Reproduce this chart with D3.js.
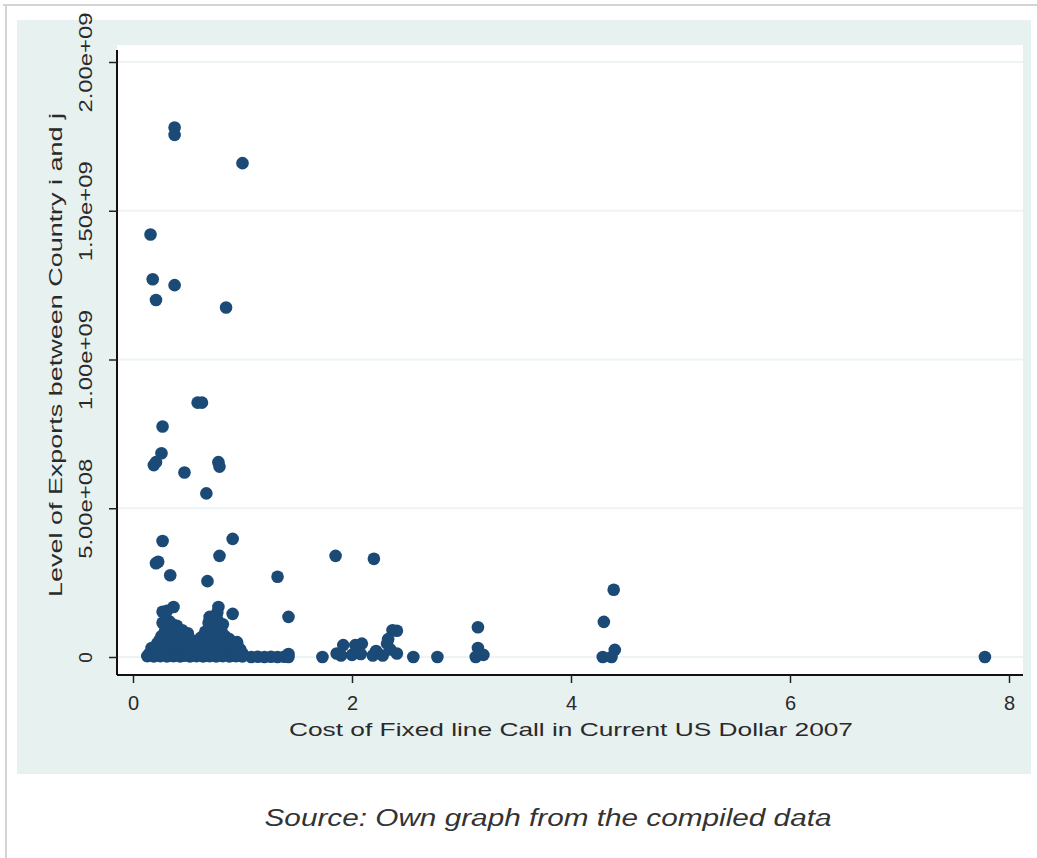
<!DOCTYPE html>
<html>
<head>
<meta charset="utf-8">
<script src="https://cdn.jsdelivr.net/npm/d3@7"></script>
<style>
  html, body { margin: 0; padding: 0; background: #ffffff; }
  svg { display: block; }
  text { font-family: "Liberation Sans", Arial, "DejaVu Sans", sans-serif; }
</style>
</head>
<body>
<svg id="chart" width="1037" height="858"></svg>
<script>
// ---- Data ----
// Cost of fixed-line call (current US$, 2007)
const costX = [
  0.38, 0.38, 1.00, 0.16, 0.18, 0.38, 0.21, 0.85, 0.59, 0.63,
  0.27, 0.26, 0.21, 0.19, 0.47, 0.78, 0.79, 0.67, 0.27, 0.91,
  0.79, 0.21, 0.23, 0.34, 0.68, 1.32, 1.85, 2.20, 1.42, 4.39,
  4.30, 3.15,
  0.27, 0.31, 0.37, 0.78, 0.77, 0.70, 0.91, 0.75, 0.82,
  0.30, 0.35, 0.40, 0.45, 0.50, 0.33, 0.28, 0.38, 0.44, 0.55,
  0.62, 0.66, 0.70, 0.72, 0.78, 0.84, 0.88, 0.95, 0.74, 0.80,
  0.60, 0.25, 0.20, 0.22, 0.90, 0.98, 0.52, 0.47, 0.65, 0.58,
  0.35, 0.42, 0.32, 0.70, 0.85, 0.92,
  0.18, 0.24, 0.29, 0.36, 0.41, 0.27, 0.33, 0.39, 0.45, 0.48,
  0.31, 0.26, 0.36, 0.43, 0.53, 0.57, 0.63, 0.68, 0.73, 0.77,
  0.81, 0.86, 0.69, 0.74, 0.79, 0.64, 0.71, 0.76, 0.83, 0.89,
  0.93, 0.67, 0.72, 0.81, 0.60, 0.55, 0.50, 0.17, 0.23, 0.96,
  0.13, 0.16, 0.19, 0.22, 0.25, 0.28, 0.31, 0.34, 0.37, 0.40,
  0.43, 0.46, 0.49, 0.52, 0.55, 0.58, 0.61, 0.64, 0.67, 0.70,
  0.73, 0.76, 0.79, 0.82, 0.85, 0.88, 0.91, 0.94, 0.97, 1.00,
  1.08, 1.14, 1.20, 1.26, 1.32, 1.38, 1.42, 1.42,
  0.15, 0.20, 0.30, 0.50, 0.60, 0.75, 0.95, 1.00,
  1.73, 1.86, 1.92, 1.90, 2.00, 2.03, 2.09, 2.08, 2.19, 2.22,
  2.28, 2.32, 2.35, 2.37, 2.41, 2.41, 2.33, 2.56, 2.78, 3.15,
  3.20, 3.13, 4.29, 4.40, 4.37, 7.78
];
// Level of exports between country i and j (US$)
const exportsY = [
  17.80e8, 17.55e8, 16.60e8, 14.20e8, 12.70e8, 12.50e8, 12.00e8, 11.75e8, 8.55e8, 8.55e8,
  7.75e8, 6.85e8, 6.55e8, 6.45e8, 6.20e8, 6.55e8, 6.40e8, 5.50e8, 3.90e8, 3.97e8,
  3.40e8, 3.15e8, 3.20e8, 2.75e8, 2.55e8, 2.70e8, 3.40e8, 3.30e8, 1.35e8, 2.26e8,
  1.18e8, 1.00e8,
  1.52e8, 1.55e8, 1.68e8, 1.68e8, 1.50e8, 1.35e8, 1.45e8, 1.20e8, 1.10e8,
  1.00e8, 0.95e8, 1.05e8, 0.90e8, 0.80e8, 0.80e8, 0.60e8, 0.70e8, 0.60e8, 0.55e8,
  0.65e8, 0.85e8, 1.00e8, 0.80e8, 0.90e8, 0.70e8, 0.60e8, 0.50e8, 0.60e8, 0.50e8,
  0.40e8, 0.40e8, 0.30e8, 0.45e8, 0.30e8, 0.25e8, 0.30e8, 0.40e8, 0.30e8, 0.20e8,
  0.35e8, 0.25e8, 0.20e8, 0.45e8, 0.35e8, 0.15e8,
  0.25e8, 0.55e8, 0.85e8, 1.10e8, 0.95e8, 1.15e8, 1.20e8, 0.80e8, 0.75e8, 0.55e8,
  0.50e8, 0.70e8, 0.45e8, 0.45e8, 0.45e8, 0.35e8, 0.30e8, 0.60e8, 1.10e8, 1.25e8,
  0.85e8, 0.50e8, 1.15e8, 0.95e8, 0.70e8, 0.50e8, 0.65e8, 0.35e8, 0.45e8, 0.25e8,
  0.30e8, 0.20e8, 0.25e8, 0.25e8, 0.20e8, 0.15e8, 0.20e8, 0.30e8, 0.20e8, 0.35e8,
  0.03e8, 0.05e8, 0.02e8, 0.06e8, 0.03e8, 0.08e8, 0.02e8, 0.05e8, 0.03e8, 0.07e8,
  0.02e8, 0.04e8, 0.06e8, 0.02e8, 0.05e8, 0.03e8, 0.07e8, 0.02e8, 0.04e8, 0.03e8,
  0.06e8, 0.02e8, 0.05e8, 0.03e8, 0.07e8, 0.02e8, 0.04e8, 0.03e8, 0.05e8, 0.02e8,
  0.00e8, 0.01e8, 0.00e8, 0.01e8, 0.00e8, 0.01e8, 0.00e8, 0.10e8,
  0.12e8, 0.15e8, 0.10e8, 0.12e8, 0.10e8, 0.15e8, 0.10e8, 0.12e8,
  0.00e8, 0.12e8, 0.40e8, 0.05e8, 0.07e8, 0.40e8, 0.45e8, 0.10e8, 0.05e8, 0.20e8,
  0.05e8, 0.45e8, 0.25e8, 0.90e8, 0.88e8, 0.12e8, 0.60e8, 0.00e8, 0.00e8, 0.30e8,
  0.07e8, 0.00e8, 0.00e8, 0.24e8, 0.00e8, 0.00e8
];
const xTicks = [0, 2, 4, 6, 8];
const xTickLabels = ["0", "2", "4", "6", "8"];
const yTicks = [0, 5e8, 1e9, 1.5e9, 2e9];
const yTickLabels = ["0", "5.00e+08", "1.00e+09", "1.50e+09", "2.00e+09"];
const xTitle = "Cost of Fixed line Call in Current US Dollar 2007";
const yTitle = "Level of Exports between  Country i and j";
const sourceNote = "Source: Own graph from the compiled  data";

// ---- Drawing ----
const svg = d3.select("#chart");
const markerColor = "#1b4a77";

// figure frame lines
svg.append("line").attr("x1", 3).attr("x2", 1037).attr("y1", 5).attr("y2", 5)
  .attr("stroke", "#d4d4d4").attr("stroke-width", 2);
svg.append("line").attr("x1", 6).attr("x2", 6).attr("y1", 5).attr("y2", 858)
  .attr("stroke", "#d4d4d4").attr("stroke-width", 2);

// graph region (light bluish)
svg.append("rect").attr("x", 17).attr("y", 20).attr("width", 1014).attr("height", 754)
  .attr("fill", "#e7f1ef");
// plot region (white)
svg.append("rect").attr("x", 117).attr("y", 45).attr("width", 906).attr("height", 630)
  .attr("fill", "#ffffff");

const x = d3.scaleLinear().domain([0, 8]).range([133, 1009]);
const y = d3.scaleLinear().domain([0, 2e9]).range([657, 62]);

// gridlines
svg.append("g").selectAll("line").data(yTicks).join("line")
  .attr("x1", 118).attr("x2", 1023)
  .attr("y1", d => y(d)).attr("y2", d => y(d))
  .attr("stroke", "#eef3f3").attr("stroke-width", 2);

// points
svg.append("g").selectAll("circle").data(costX.map((c, i) => [c, exportsY[i]])).join("circle")
  .attr("cx", d => x(d[0])).attr("cy", d => y(d[1]))
  .attr("r", 6.3).attr("fill", markerColor);

// y axis
const yAxis = d3.axisLeft(y).tickValues(yTicks).tickSize(8).tickFormat((d, i) => yTickLabels[i]);
const gy = svg.append("g").attr("transform", "translate(117,0)").call(yAxis);
gy.select(".domain").attr("d", "M0,50V675").attr("stroke", "#111").attr("stroke-width", 2);
gy.selectAll(".tick line").attr("stroke", "#222").attr("stroke-width", 1.5);
gy.selectAll(".tick text")
  .attr("x", null).attr("dy", null)
  .attr("transform", "translate(-25,0) rotate(-90)")
  .attr("text-anchor", "middle")
  .attr("font-size", 19)
  .attr("fill", "#2a2a2a")
  .each(function(d, i) { if (yTickLabels[i].length > 1) d3.select(this).attr("textLength", 100).attr("lengthAdjust", "spacingAndGlyphs"); });

// x axis
const xAxis = d3.axisBottom(x).tickValues(xTicks).tickSize(8).tickFormat((d, i) => xTickLabels[i]);
const gx = svg.append("g").attr("transform", "translate(0,675)").call(xAxis);
gx.select(".domain").attr("d", "M117,0H1023").attr("stroke", "#111").attr("stroke-width", 2);
gx.selectAll(".tick line").attr("stroke", "#222").attr("stroke-width", 1.5);
gx.selectAll(".tick text")
  .attr("y", 35).attr("dy", null)
  .attr("font-size", 20)
  .attr("fill", "#2a2a2a");

// axis titles
svg.append("text").attr("x", 571).attr("y", 736)
  .attr("text-anchor", "middle").attr("font-size", 19).attr("fill", "#2a2a2a")
  .attr("textLength", 564).attr("lengthAdjust", "spacingAndGlyphs")
  .text(xTitle);
svg.append("text").attr("transform", "translate(62,355) rotate(-90)")
  .attr("text-anchor", "middle").attr("font-size", 19).attr("fill", "#2a2a2a")
  .attr("textLength", 484).attr("lengthAdjust", "spacingAndGlyphs")
  .text(yTitle);

// source note
svg.append("text").attr("x", 548).attr("y", 826)
  .attr("text-anchor", "middle").attr("font-size", 23).attr("font-style", "italic")
  .attr("fill", "#333")
  .attr("textLength", 567).attr("lengthAdjust", "spacingAndGlyphs")
  .text(sourceNote);
</script>
</body>
</html>
